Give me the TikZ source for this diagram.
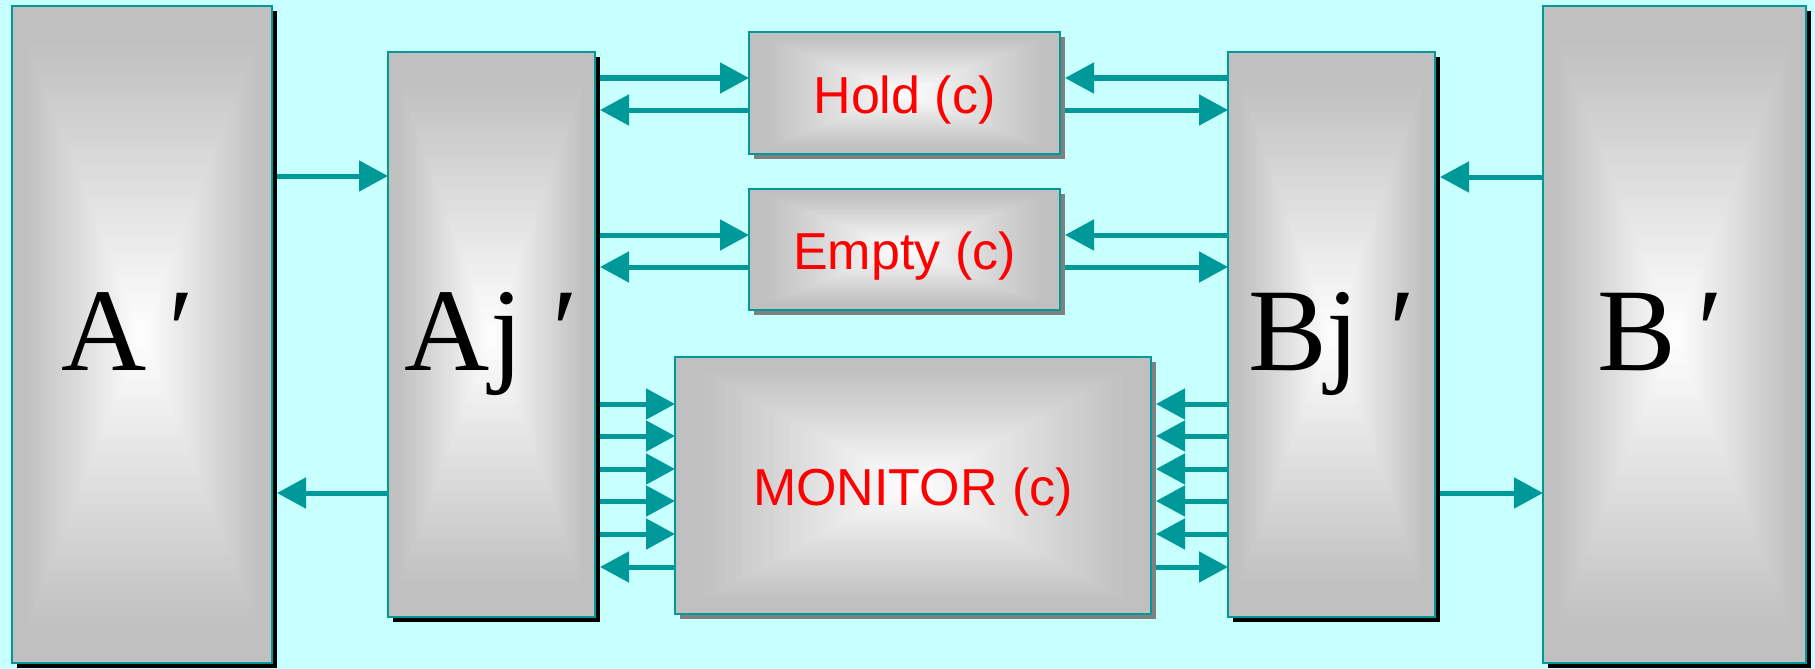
\documentclass[tikz,border=0pt]{standalone}
\usepackage{fontspec}
\usetikzlibrary{arrows.meta,calc}
\newfontfamily\bigserif{Liberation Serif}
\newfontfamily\lblsans{Liberation Sans}
\definecolor{bgc}{HTML}{C8FFFF}
\definecolor{tealc}{HTML}{009999}
\definecolor{silv}{HTML}{C0C0C0}
\definecolor{shd}{HTML}{808080}
\pgfdeclarelayer{bglayer}
\pgfdeclarelayer{shadelayer}
\pgfsetlayers{bglayer,shadelayer,main}
\tikzset{
 box/.style={draw=tealc, line width=2.5pt, rectangle, outer sep=0pt, inner sep=0pt},
 bigbox/.style={box, font=\bigserif\fontsize{118}{118}\selectfont, text height=71pt, text depth=0pt},
 smallbox/.style={box, font=\lblsans\fontsize{52}{52}\selectfont, text=red, text height=40pt, text depth=0pt},
 arr/.style={draw=tealc, line width=5pt, -{Triangle[length=29pt,width=30pt]}},
}
\newcommand\rectgrad[2]{%
  \begin{pgfonlayer}{shadelayer}
  \fill[#2] ($(#1.south west)+(5,5)$) rectangle ($(#1.north east)+(5,5)$);
  \fill[silv] (#1.south west) rectangle (#1.north east);
  \foreach \i in {0,...,40}{
    \pgfmathsetmacro\f{0.9*(1-\i/40)}
    \pgfmathsetmacro\p{100*\i/40}
    \fill[white!\p!silv] ($(#1.center)!\f!(#1.south west)$) rectangle ($(#1.center)!\f!(#1.north east)$);
  }
  \end{pgfonlayer}
}
\begin{document}
\begin{tikzpicture}[x=1pt,y=-1pt]
\useasboundingbox (0,0) rectangle (1815,669);
\begin{pgfonlayer}{bglayer}
\fill[bgc] (0,0) rectangle (1815,669);
\end{pgfonlayer}

\node[bigbox, minimum width=260pt, minimum height=657pt] (Ap) at (142,334.5) {A\hspace{22pt}′\hspace{28pt}\null};
\node[bigbox, minimum width=207pt, minimum height=565pt] (Aj) at (491.5,334.5) {Aj ′};
\node[smallbox, minimum width=311pt, minimum height=122pt] (Hold) at (904.5,93) {Hold (c)};
\node[smallbox, minimum width=311pt, minimum height=121pt] (Empty) at (904.5,249.5) {Empty (c)};
\node[smallbox, minimum width=476pt, minimum height=257pt] (Mon) at (913,485.5) {MONITOR (c)};
\node[bigbox, minimum width=207pt, minimum height=565pt] (Bj) at (1331.5,334.5) {Bj ′};
\node[bigbox, minimum width=263pt, minimum height=657pt] (Bp) at (1674.5,334.5) {B\hspace{22pt}′\hspace{28pt}\null};

\rectgrad{Ap}{black}
\rectgrad{Aj}{black}
\rectgrad{Bj}{black}
\rectgrad{Bp}{black}
\rectgrad{Hold}{shd}
\rectgrad{Empty}{shd}
\rectgrad{Mon}{shd}

% A' <-> Aj'
\draw[arr, shorten <=5pt] (Ap.east |- 0,176) -- (Aj.west |- 0,176);
\draw[arr, shorten >=5pt] (Aj.west |- 0,493) -- (Ap.east |- 0,493);
% B' <-> Bj'
\draw[arr, shorten >=5pt] (Bp.west |- 0,177) -- (Bj.east |- 0,177);
\draw[arr, shorten <=5pt] (Bj.east |- 0,493) -- (Bp.west |- 0,493);
% Hold
\draw[arr, shorten <=5pt] (Aj.east |- 0,78) -- (Hold.west |- 0,78);
\draw[arr, shorten >=5pt] (Hold.west |- 0,110) -- (Aj.east |- 0,110);
\draw[arr, shorten >=5pt] (Bj.west |- 0,78) -- (Hold.east |- 0,78);
\draw[arr, shorten <=5pt] (Hold.east |- 0,110) -- (Bj.west |- 0,110);
% Empty
\draw[arr, shorten <=5pt] (Aj.east |- 0,235) -- (Empty.west |- 0,235);
\draw[arr, shorten >=5pt] (Empty.west |- 0,267) -- (Aj.east |- 0,267);
\draw[arr, shorten >=5pt] (Bj.west |- 0,235) -- (Empty.east |- 0,235);
\draw[arr, shorten <=5pt] (Empty.east |- 0,267) -- (Bj.west |- 0,267);
% Monitor
\foreach \yy in {404,436,469,501,534}{
  \draw[arr, shorten <=5pt] (Aj.east |- 0,\yy) -- (Mon.west |- 0,\yy);
  \draw[arr, shorten >=5pt] (Bj.west |- 0,\yy) -- (Mon.east |- 0,\yy);
}
\draw[arr, shorten >=5pt] (Mon.west |- 0,567) -- (Aj.east |- 0,567);
\draw[arr, shorten <=5pt] (Mon.east |- 0,567) -- (Bj.west |- 0,567);
\end{tikzpicture}
\end{document}
